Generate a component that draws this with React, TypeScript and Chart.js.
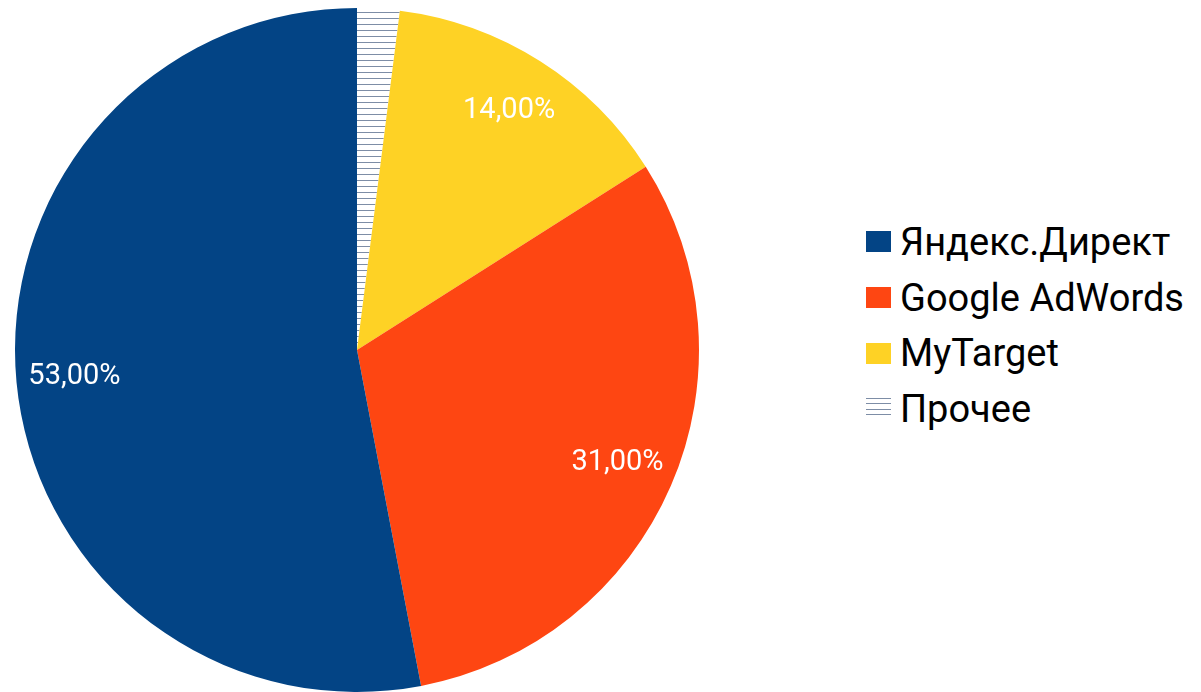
import React, { useEffect, useRef } from "react";
import { Chart, registerables } from "chart.js";

Chart.register(...registerables);

// ---- data (legend order) ----
const categories = ["Яндекс.Директ", "Google AdWords", "MyTarget", "Прочее"];
const shares = [53, 31, 14, 2];
const sliceColors = ["#034485", "#fe4612", "#fed225", "hatch"];
const hatchLineColor = "#7d8da6";

function formatShare(v: number): string {
  return v.toFixed(2).replace(".", ",") + "%";
}

function makeHatch(): CanvasPattern | string {
  const c = document.createElement("canvas");
  c.width = 6;
  c.height = 6;
  const g = c.getContext("2d");
  if (!g) return "#ffffff";
  g.fillStyle = "#ffffff";
  g.fillRect(0, 0, 6, 6);
  g.fillStyle = hatchLineColor;
  g.fillRect(0, 0, 6, 1);
  return g.createPattern(c, "repeat") || "#ffffff";
}

const sliceLabelPlugin = {
  id: "sliceLabels",
  afterDatasetsDraw(chart: any) {
    const meta = chart.getDatasetMeta(0);
    const ds = chart.data.datasets[0];
    const ctx = chart.ctx as CanvasRenderingContext2D;
    ctx.save();
    ctx.font = "29px Roboto";
    ctx.fillStyle = "#ffffff";
    ctx.textAlign = "center";
    ctx.textBaseline = "middle";
    meta.data.forEach((arc: any, i: number) => {
      const v = ds.data[i] as number;
      if (v < 5) return;
      const p = arc.getProps(["startAngle", "endAngle", "outerRadius", "x", "y"], true);
      const mid = (p.startAngle + p.endAngle) / 2;
      const r = p.outerRadius * 0.83;
      ctx.fillText(formatShare(v), p.x + Math.cos(mid) * r, p.y + Math.sin(mid) * r);
    });
    ctx.restore();
  },
};

export default function App() {
  const ref = useRef<HTMLCanvasElement | null>(null);

  useEffect(() => {
    if (!ref.current) return;
    const hatch = makeHatch();
    const fills = sliceColors.map((c) => (c === "hatch" ? hatch : c));
    // drawn clockwise from the top in reverse legend order
    const chart = new Chart(ref.current, {
      type: "pie",
      data: {
        labels: [...categories].reverse(),
        datasets: [
          {
            data: [...shares].reverse(),
            backgroundColor: [...fills].reverse() as any,
            borderWidth: 0,
          },
        ],
      },
      options: {
        animation: false,
        responsive: false,
        maintainAspectRatio: false,
        layout: { padding: { left: 15, right: 15, top: 8, bottom: 0 } },
        plugins: {
          legend: { display: false },
          tooltip: { enabled: false },
        },
      },
      plugins: [sliceLabelPlugin],
    });
    return () => chart.destroy();
  }, []);

  return (
    <div
      style={{
        position: "fixed",
        left: 0,
        top: 0,
        width: 1201,
        height: 692,
        background: "#ffffff",
        overflow: "hidden",
      }}
    >
      <canvas
        ref={ref}
        width={714}
        height={692}
        style={{ position: "absolute", left: 0, top: 0, width: 714, height: 692 }}
      />
      <div style={{ position: "absolute", left: 866, top: 214 }}>
        {categories.map((name, i) => (
          <div
            key={name}
            style={{
              height: 55.7,
              display: "flex",
              alignItems: "center",
              fontFamily: "Roboto",
              fontSize: 38,
              color: "#000000",
              whiteSpace: "nowrap",
            }}
          >
            <span
              style={{
                display: "inline-block",
                width: 25,
                height: 21,
                marginRight: 9,
                background:
                  sliceColors[i] === "hatch"
                    ? `repeating-linear-gradient(to bottom, ${hatchLineColor} 0px, ${hatchLineColor} 1px, #ffffff 1px, #ffffff 5.3px)`
                    : sliceColors[i],
              }}
            />
            <span style={{ lineHeight: "44px" }}>{name}</span>
          </div>
        ))}
      </div>
    </div>
  );
}
